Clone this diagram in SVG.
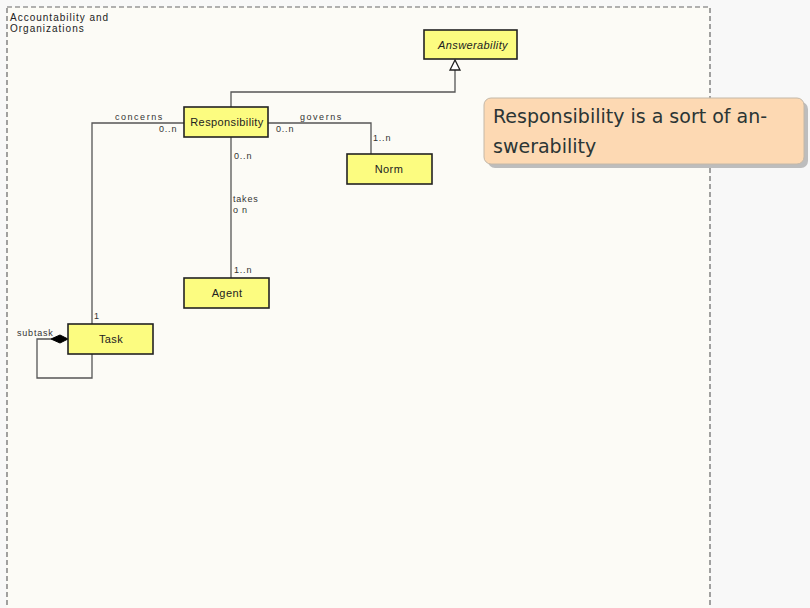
<svg xmlns="http://www.w3.org/2000/svg" width="810" height="608" viewBox="0 0 810 608">
<style>
.node rect{fill:#fcfc80;stroke:#222;stroke-width:1.6}
.node text{font-family:"Liberation Sans",Arial,sans-serif;font-size:11px;fill:#222;text-anchor:middle;letter-spacing:0.4px}
.conn path{fill:none;stroke:#555;stroke-width:1.3}
.lbl{font-family:"Liberation Sans",Arial,sans-serif;font-size:9px;fill:#333;letter-spacing:0.8px}
.title{font-family:"Liberation Sans",Arial,sans-serif;font-size:10px;fill:#222;letter-spacing:1px}
.note{font-family:"DejaVu Sans","Open Sans",sans-serif;font-size:19px;fill:#2b3535}
</style>
<rect x="0" y="0" width="810" height="608" fill="#f8f8f8"/>
<g id="frame">
<rect x="7" y="7" width="703" height="620" fill="#fcfbf6" stroke="#666" stroke-width="1.2" stroke-dasharray="5,3"/>
<text class="title" x="10" y="21">Accountability and</text>
<text class="title" x="10" y="32">Organizations</text>
</g>
<g class="conn" id="connectors">
<path d="M231,107 V92 H455 V70"/>
<polygon points="455,60 450,70 460,70" fill="#fff" stroke="#222" stroke-width="1.3"/>
<path d="M184,123 H92 V324"/>
<path d="M268,123 H371 V154"/>
<path d="M231,137 V278"/>
<path d="M92,354 V378 H37 V339 H51"/>
<polygon points="68,339 60,335 51,339 60,343" fill="#000" stroke="#000" stroke-width="1"/>
<text class="lbl" x="115" y="120" textLength="48">concerns</text>
<text class="lbl" x="159" y="132">0..n</text>
<text class="lbl" x="276" y="132">0..n</text>
<text class="lbl" x="300" y="120" textLength="42">governs</text>
<text class="lbl" x="373" y="141">1..n</text>
<text class="lbl" x="234" y="159">0..n</text>
<text class="lbl" x="233" y="202">takes</text>
<text class="lbl" x="233" y="213">o n</text>
<text class="lbl" x="234" y="273">1..n</text>
<text class="lbl" x="94" y="319">1</text>
<text class="lbl" x="17" y="336">subtask</text>
</g>
<g class="node" id="answerability">
<rect x="424" y="30" width="93" height="29"/>
<text x="473" y="49" font-style="italic">Answerability</text>
</g>
<g class="node" id="responsibility">
<rect x="184" y="107" width="84" height="30"/>
<text x="227" y="126">Responsibility</text>
</g>
<g class="node" id="norm">
<rect x="347" y="154" width="85" height="30"/>
<text x="389" y="173">Norm</text>
</g>
<g class="node" id="agent">
<rect x="184" y="278" width="85" height="30"/>
<text x="227" y="297">Agent</text>
</g>
<g class="node" id="task">
<rect x="68" y="324" width="85" height="30"/>
<text x="111" y="343">Task</text>
</g>
<g id="note">
<rect x="488" y="102" width="320" height="66" rx="7" fill="#bdbdbd"/>
<rect x="484" y="98" width="320" height="66" rx="7" fill="#fdd9b3" stroke="#c4b8a8" stroke-width="1"/>
<text class="note" x="493" y="123">Responsibility is a sort of an-</text>
<text class="note" x="493" y="153">swerability</text>
</g>
</svg>
